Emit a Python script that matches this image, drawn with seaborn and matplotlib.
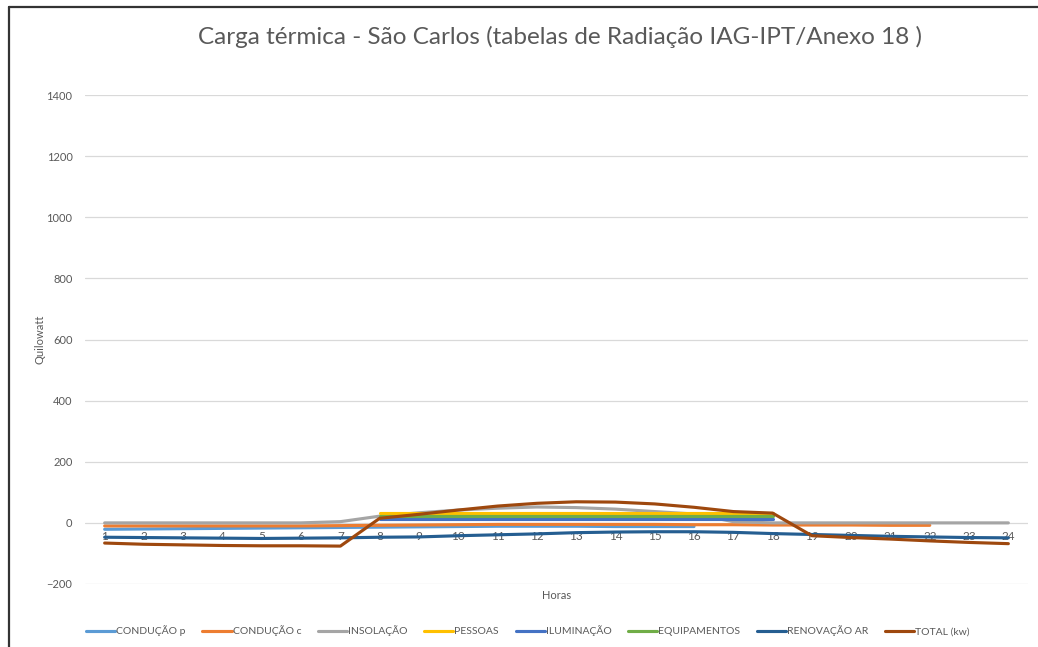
import numpy as np
import pandas as pd
import matplotlib.pyplot as plt
import seaborn as sns
from matplotlib.lines import Line2D

# dados (kW por hora)
horas = list(range(1, 25))
nan = np.nan
conducao_p = [-21, -20, -19, -18, -17, -16, -15, -14, -13, -12, -11, -11,
              -11, -12, -12, -12] + [nan] * 8
conducao_c = [-10, -10, -10, -10, -10, -10, -9, -8, -7, -6, -5, -5,
              -5, -5, -5, -6, -6, -7, -7, -7, -8, -8] + [nan] * 2
insolacao = [0, 0, 0, 0, 0, 0, 4, 22, 33, 42, 48, 52,
             50, 45, 37, 29, 4, 0, 0, 0, 0, 0, 0, 0]
pessoas = [nan] * 7 + [32] * 11 + [nan] * 6
iluminacao = [nan] * 7 + [14] * 11 + [nan] * 6
equipamentos = [nan] * 7 + [24] * 11 + [nan] * 6
renovacao_ar = [-47, -48, -49, -50, -51, -50, -49, -47, -46, -42, -39, -36,
                -32, -30, -29, -29, -31, -35, -38, -41, -44, -46, -48, -49]
total_kw = [-66, -70, -72, -74, -75, -75, -76, 15, 28, 42, 55, 64,
            69, 68, 62, 51, 37, 32, -42, -48, -53, -59, -64, -68]

series = {
    'CONDUÇÃO p': (conducao_p, '#5B9BD5'),
    'CONDUÇÃO c': (conducao_c, '#ED7D31'),
    'INSOLAÇÃO': (insolacao, '#A5A5A5'),
    'PESSOAS': (pessoas, '#FFC000'),
    'ILUMINAÇÃO': (iluminacao, '#4472C4'),
    'EQUIPAMENTOS': (equipamentos, '#70AD47'),
    'RENOVAÇÃO AR': (renovacao_ar, '#255E91'),
    'TOTAL (kw)': (total_kw, '#9E480E'),
}

sns.set_style('white')
plt.rcParams['font.family'] = ['Lato', 'DejaVu Sans']
cinza = '#595959'

fig = plt.figure(figsize=(10.38, 6.47), dpi=100)
ax = fig.add_axes([85 / 1038, 1 - 584 / 647, 943 / 1038, 489 / 647])

for nome, (vals, cor) in series.items():
    df = pd.DataFrame({'Horas': horas, 'kW': vals}).dropna()
    sns.lineplot(data=df, x='Horas', y='kW', color=cor, linewidth=2.25,
                 label=nome, ax=ax)

ax.set_xlim(0.5, 24.5)
ax.set_ylim(-200, 1400)
ax.set_yticks(range(-200, 1401, 200))
ax.set_xticks(horas)
ax.yaxis.grid(True, color='#D9D9D9', linewidth=0.9)
ax.set_axisbelow(True)
for s in ax.spines.values():
    s.set_visible(False)
ax.spines['bottom'].set_position(('data', 0))
ax.tick_params(axis='both', length=0, labelcolor=cinza)
ax.tick_params(axis='x', pad=6, labelsize=8.5)
ax.tick_params(axis='y', pad=9, labelsize=8)

ax.set_xlabel('Horas', fontsize=8, color=cinza)
ax.xaxis.set_label_coords(0.5, -0.012)
ax.set_ylabel('Quilowatt', fontsize=8, color=cinza)
ax.yaxis.set_label_coords(-0.042, 0.5)

fig.text(560 / 1038, 1 - 37 / 647,
         'Carga térmica - São Carlos (tabelas de Radiação IAG-IPT/Anexo 18 )',
         ha='center', va='center', fontsize=17.5, color=cinza)

leg = ax.legend(loc='center', bbox_to_anchor=(528 / 1038, 1 - 631 / 647),
                bbox_transform=fig.transFigure, ncol=8, frameon=False,
                fontsize=7.5, handlelength=2.8, handletextpad=0.1,
                columnspacing=1.6)
for t in leg.get_texts():
    t.set_color(cinza)

# moldura (só esquerda e topo aparecem no recorte)
fig.add_artist(Line2D([8.5 / 1038, 8.5 / 1038], [0, 1 - 7 / 647],
                      transform=fig.transFigure, color='#333333', linewidth=1.6))
fig.add_artist(Line2D([8.5 / 1038, 1], [1 - 7 / 647, 1 - 7 / 647],
                      transform=fig.transFigure, color='#333333', linewidth=1.6))

fig.savefig('out.png', dpi=100, facecolor='white')
